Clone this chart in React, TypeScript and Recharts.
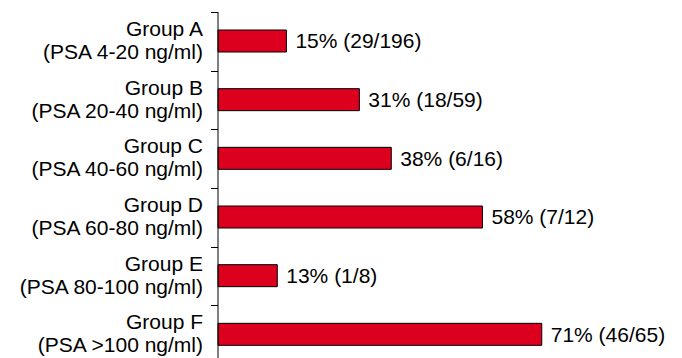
import React from "react";
import { BarChart, Bar, XAxis, YAxis, LabelList } from "recharts";

const groups = ["Group A", "Group B", "Group C", "Group D", "Group E", "Group F"];
const ranges = [
    "(PSA 4-20 ng/ml)",
    "(PSA 20-40 ng/ml)",
    "(PSA 40-60 ng/ml)",
    "(PSA 60-80 ng/ml)",
    "(PSA 80-100 ng/ml)",
    "(PSA >100 ng/ml)",
];
const percents = [15, 31, 38, 58, 13, 71];
const counts = ["29/196", "18/59", "6/16", "7/12", "1/8", "46/65"];

const data = groups.map((g, i) => ({
    name: g,
    range: ranges[i],
    value: percents[i],
    label: `${percents[i]}% (${counts[i]})`,
}));

const FONT = "'Liberation Sans', Arial, sans-serif";
const WIDTH = 682;
const HEIGHT = 372;
const MARGIN = { top: 12, right: 8, bottom: 8, left: 0 };
const AXIS_W = 218;
const BAND = (HEIGHT - MARGIN.top - MARGIN.bottom) / data.length;

// two-line category label plus tick marks on the band edges
const GroupTick = (props: any) => {
    const { y, payload, index } = props;
    const item = data[index] ?? data.find((d) => d.name === payload.value);
    const axisX = MARGIN.left + AXIS_W;
    const tx = axisX - 15;
    const top = Math.round(y - BAND / 2) + 0.5;
    const bottom = Math.round(y + BAND / 2) + 0.5;
    return (
        <g>
            <path d={`M${axisX - 7},${top}H${axisX}`} stroke="#000" strokeWidth={1} fill="none" />
            {index === data.length - 1 && (
                <path d={`M${axisX - 7},${bottom}H${axisX}`} stroke="#000" strokeWidth={1} fill="none" />
            )}
            <text x={tx} y={y} textAnchor="end" fontFamily={FONT} fontSize={21} fill="#000">
                <tspan x={tx} dy={-5.5}>{payload.value}</tspan>
                <tspan x={tx} dy={23}>{item ? item.range : ""}</tspan>
            </text>
        </g>
    );
};

const App: React.FC = () => {
    return (
        <div style={{ position: "fixed", top: 0, left: 0, width: WIDTH, height: 358, overflow: "hidden", background: "#fff" }}>
            <BarChart width={WIDTH} height={HEIGHT} data={data} layout="vertical" margin={MARGIN} barCategoryGap={0}>
                <XAxis type="number" domain={[0, 100]} hide />
                <YAxis
                    type="category"
                    dataKey="name"
                    width={AXIS_W}
                    axisLine={{ stroke: "#000" }}
                    tickLine={false}
                    tick={<GroupTick />}
                    interval={0}
                />
                <Bar dataKey="value" fill="#dc001e" stroke="#000" strokeWidth={1} barSize={22} isAnimationActive={false}>
                    <LabelList
                        dataKey="label"
                        position="right"
                        offset={9}
                        style={{ fontFamily: FONT, fontSize: 21, fill: "#000" }}
                    />
                </Bar>
            </BarChart>
        </div>
    );
};

export default App;
